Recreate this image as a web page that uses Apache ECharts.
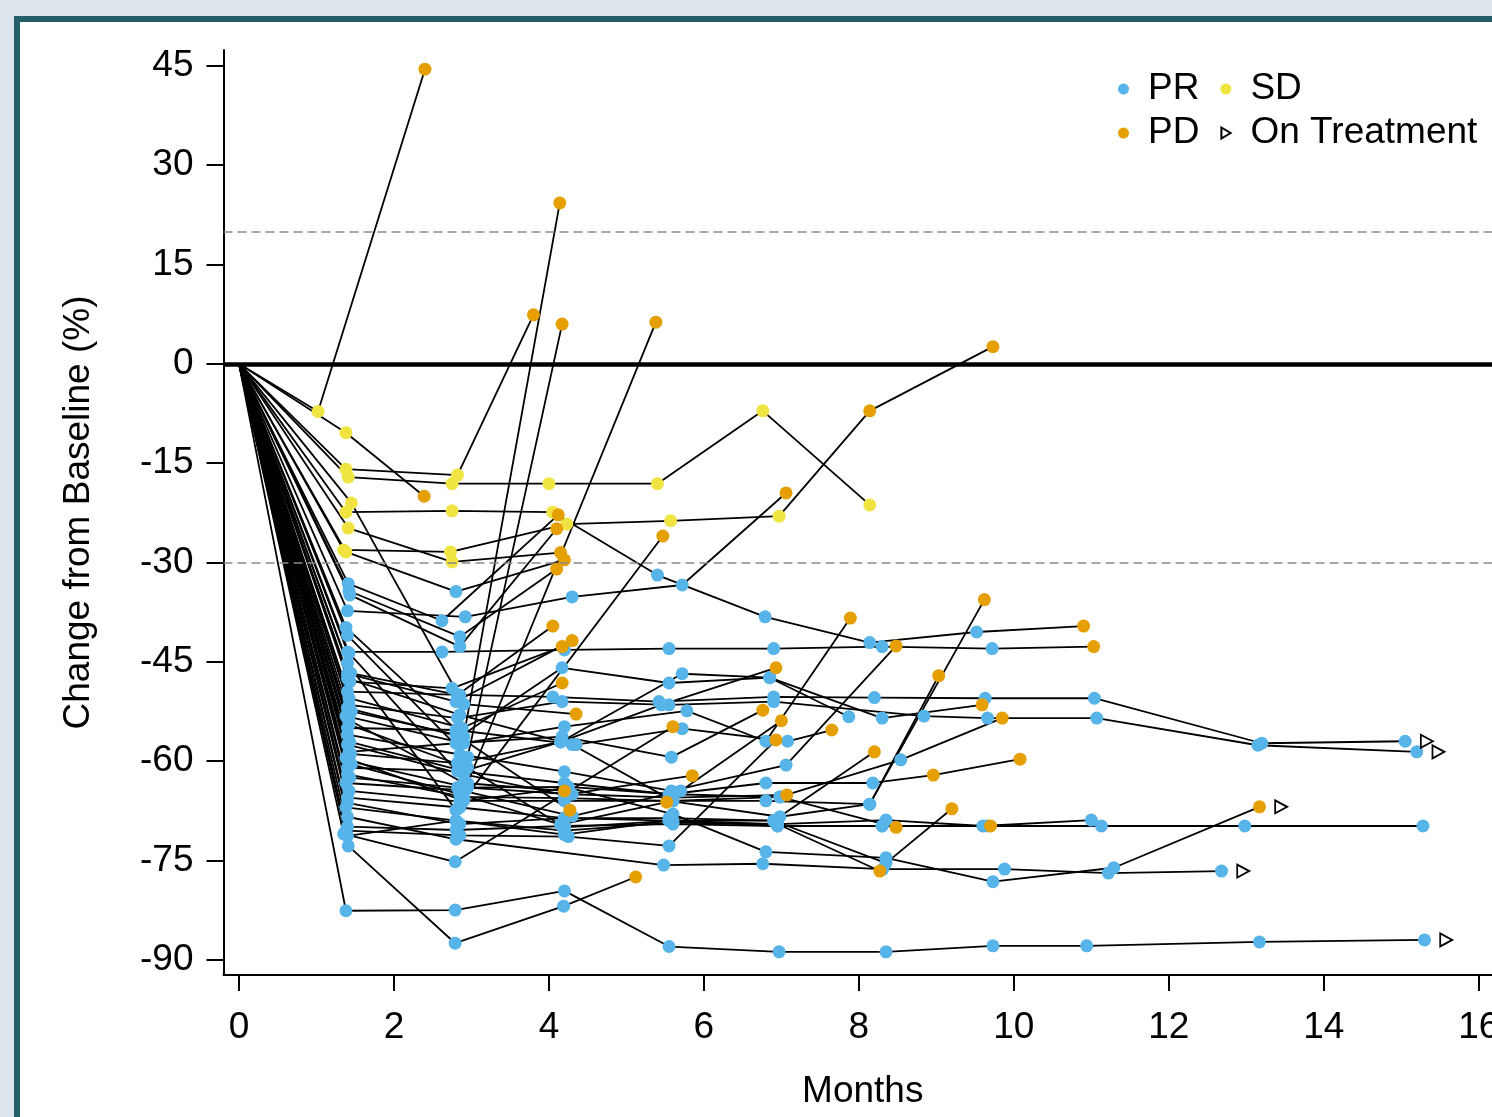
<!DOCTYPE html>
<html>
<head>
<meta charset="utf-8">
<script src="https://cdn.jsdelivr.net/npm/echarts@6/dist/echarts.min.js"></script>
<style>
  html, body { margin: 0; padding: 0; width: 1492px; height: 1117px; overflow: hidden; background: #dde6ed; }
  #panel { position: absolute; left: 14px; top: 16px; width: 1530px; height: 1160px; background: #fff; border: 6px solid #245e69; }
  #chart { position: absolute; left: 0; top: 0; width: 1530px; height: 1117px; }
</style>
</head>
<body>
<div id="panel"></div>
<div id="chart"></div>
<script>
// each point: [months, % change from baseline, response]; every trace starts at (0, 0)
const sdStart = [
  [[1.02, -7.2, 'SD'], [2.4, 44.5, 'PD']],
  [[1.38, -10.4, 'SD'], [2.39, -20, 'PD']],
  [[1.38, -15.9, 'SD'], [2.82, -16.8, 'SD'], [3.8, 7.4, 'PD']],
  [[1.41, -17.1, 'SD'], [2.75, -18.1, 'SD'], [4.0, -18.1, 'SD'], [5.4, -18.1, 'SD'], [6.76, -7.1, 'SD'], [8.14, -21.3, 'SD']],
  [[1.38, -22.4, 'SD'], [2.75, -22.2, 'SD'], [4.05, -22.4, 'SD'], [5.4, -31.9, 'PR'], [6.79, -38.2, 'PR'], [8.14, -42.1, 'PR'], [9.52, -40.5, 'PR'], [10.9, -39.6, 'PD']],
  [[1.35, -28.1, 'SD'], [2.73, -28.4, 'SD'], [4.23, -24.2, 'SD'], [5.57, -23.7, 'SD'], [6.97, -23, 'SD'], [8.14, -7.1, 'PD'], [9.73, 2.6, 'PD']],
  [[1.41, -24.8, 'SD'], [2.75, -29.9, 'SD'], [4.15, -28.5, 'PD']],
  [[1.45, -21, 'SD'], [2.9, -51.4, 'PR'], [4.35, -52.9, 'PD']],
  [[1.38, -28.4, 'SD'], [2.8, -34.4, 'PR'], [4.2, -29.6, 'PD']]
];

const prEarly = [
  [[1.41, -33.2, 'PR'], [2.62, -38.8, 'PR'], [4.12, -22.8, 'PD']],
  [[1.42, -34.3, 'PR'], [2.85, -41.2, 'PR'], [4.1, -31, 'PD']],
  [[1.43, -34.9, 'PR'], [2.85, -42.7, 'PR'], [4.1, -24.9, 'PD']],
  [[1.38, -39.8, 'PR'], [2.9, -56.3, 'PR'], [4.14, 24.3, 'PD']],
  [[1.4, -41, 'PR'], [2.95, -59.4, 'PR'], [4.17, 6, 'PD']],
  [[1.42, -43.7, 'PR'], [2.95, -63.3, 'PR'], [5.38, 6.3, 'PD']],
  [[1.4, -45.2, 'PR'], [2.8, -67.4, 'PR'], [5.47, -26, 'PD']],
  [[1.44, -46.7, 'PR'], [2.82, -50, 'PR'], [4.05, -39.6, 'PD']],
  [[1.4, -46.8, 'PR'], [2.8, -51, 'PR'], [4.3, -41.8, 'PD']],
  [[1.43, -48, 'PR'], [2.75, -49, 'PR'], [4.17, -42.7, 'PD']],
  [[1.42, -50.5, 'PR'], [2.88, -55, 'PR'], [4.17, -48.2, 'PD']],
  [[1.45, -52.5, 'PR'], [2.8, -56, 'PR'], [4.27, -67.4, 'PD']],
  [[1.42, -53.8, 'PR'], [2.9, -63.3, 'PR'], [4.2, -64.5, 'PD']],
  [[1.35, -71, 'PR'], [2.79, -75.2, 'PR'], [5.6, -54.8, 'PD']],
  [[1.41, -72.8, 'PR'], [2.79, -87.5, 'PR'], [4.19, -81.9, 'PR'], [5.12, -77.5, 'PD']],
  [[1.4, -57.5, 'PR'], [2.9, -62, 'PR'], [4.2, -65.1, 'PR'], [5.85, -62.2, 'PD']],
  [[1.45, -60.5, 'PR'], [2.85, -65, 'PR'], [4.15, -69.6, 'PR'], [5.52, -66.2, 'PD']]
];

const prLate = [
  [[1.4, -37.3, 'PR'], [2.92, -38.2, 'PR'], [4.3, -35.2, 'PR'], [5.72, -33.4, 'PR'], [7.06, -19.5, 'PD']],
  [[1.4, -43.5, 'PR'], [2.62, -43.5, 'PR'], [4.2, -43.2, 'PR'], [5.55, -43, 'PR'], [6.9, -43, 'PR'], [8.3, -42.7, 'PR'], [9.72, -43, 'PR'], [11.03, -42.7, 'PD']],
  [[1.38, -53.2, 'PR'], [2.9, -57.3, 'PR'], [4.2, -54.8, 'PR'], [5.78, -52.4, 'PR'], [6.8, -57, 'PR'], [7.89, -38.4, 'PD']],
  [[1.4, -55, 'PR'], [2.8, -55.3, 'PR'], [4.35, -57.5, 'PR'], [5.72, -55.1, 'PR'], [7.08, -57, 'PR'], [7.65, -55.3, 'PD']],
  [[1.42, -58.6, 'PR'], [2.8, -57.3, 'PR'], [4.17, -56.3, 'PR'], [5.58, -59.4, 'PR'], [6.76, -52.3, 'PD']],
  [[1.44, -58.9, 'PR'], [2.82, -60.3, 'PR'], [4.15, -57.1, 'PR'], [5.72, -46.8, 'PR'], [6.85, -47.4, 'PR'], [8.3, -53.5, 'PR'], [9.59, -51.5, 'PD']],
  [[1.43, -57.1, 'PR'], [2.9, -61.5, 'PR'], [4.15, -57.1, 'PR'], [5.45, -51.5, 'PR'], [6.93, -45.9, 'PD']],
  [[1.4, -61, 'PR'], [2.82, -61.5, 'PR'], [4.2, -63.3, 'PR'], [5.55, -65, 'PR'], [6.8, -63.3, 'PR'], [8.18, -63.3, 'PR'], [8.96, -62.1, 'PD'], [10.08, -59.7, 'PD']],
  [[1.38, -63.3, 'PR'], [2.87, -64.4, 'PR'], [4.3, -68.3, 'PR'], [5.7, -64.5, 'PR'], [7.0, -53.9, 'PD']],
  [[1.4, -69.9, 'PR'], [2.8, -70.4, 'PR'], [4.2, -69.8, 'PR'], [5.6, -69.5, 'PR'], [6.95, -69.8, 'PR'], [8.3, -69.8, 'PR'], [9.66, -69.8, 'PR'], [11.13, -69.8, 'PR'], [12.98, -69.8, 'PR'], [15.28, -69.8, 'PR']],
  [[1.38, -67, 'PR'], [2.8, -69, 'PR'], [4.2, -70.5, 'PR'], [5.6, -69.3, 'PR'], [6.95, -69.5, 'PR'], [8.35, -68.9, 'PR'], [9.6, -69.8, 'PR'], [11.0, -68.9, 'PR']],
  [[1.4, -71.3, 'PR'], [2.8, -69, 'PR'], [4.2, -71.1, 'PR'], [5.55, -69, 'PR'], [6.9, -69, 'PR'], [8.35, -75.4, 'PR'], [9.2, -67.2, 'PD']],
  [[1.4, -66.3, 'PR'], [2.85, -69.5, 'PR'], [4.2, -68.6, 'PR'], [5.55, -69, 'PR'], [6.95, -69.5, 'PR'], [8.27, -76.6, 'PD']],
  [[1.38, -70.5, 'PR'], [2.85, -71.2, 'PR'], [4.25, -71.4, 'PR'], [5.55, -72.8, 'PR'], [6.93, -56.8, 'PD']],
  [[1.4, -62, 'PR'], [2.9, -65.4, 'PR'], [4.2, -65.6, 'PR'], [5.55, -66, 'PR'], [6.98, -68.4, 'PR'], [8.14, -66.5, 'PR'], [9.62, -35.6, 'PD']],
  [[1.42, -60, 'PR'], [2.95, -64, 'PR'], [4.3, -65, 'PR'], [5.6, -65.5, 'PR'], [7.07, -65.1, 'PD']],
  [[1.4, -56, 'PR'], [2.85, -59, 'PR'], [4.2, -61.6, 'PR'], [5.58, -64.5, 'PR'], [7.06, -60.6, 'PR'], [8.48, -42.6, 'PD']],
  [[1.4, -65.5, 'PR'], [2.85, -67, 'PR'], [4.2, -68.6, 'PR'], [5.55, -68.6, 'PR'], [6.9, -69, 'PR'], [8.2, -58.6, 'PD']],
  [[1.43, -62.5, 'PR'], [2.82, -64, 'PR'], [4.25, -63.9, 'PR'], [5.6, -65, 'PR'], [6.98, -65.4, 'PR'], [8.54, -59.8, 'PR'], [9.85, -53.5, 'PD']],
  [[1.38, -59.5, 'PR'], [2.9, -66, 'PR'], [4.2, -66, 'PR'], [5.6, -66, 'PR'], [6.8, -66, 'PR'], [8.14, -66.5, 'PR'], [9.03, -47.1, 'PD']],
  [[1.4, -47.5, 'PR'], [2.85, -53, 'PR'], [4.3, -57.5, 'PR'], [5.6, -66, 'PR'], [6.98, -65.4, 'PR'], [8.48, -70, 'PD']],
  [[1.42, -54.5, 'PR'], [2.95, -61, 'PR'], [4.2, -70, 'PR'], [5.6, -69, 'PR'], [6.95, -69.8, 'PR'], [8.3, -69.8, 'PR'], [9.7, -69.8, 'PD']],
  [[1.4, -52, 'PR'], [2.85, -56.3, 'PR'], [4.17, -45.9, 'PR'], [5.55, -48.2, 'PR'], [6.85, -47.4, 'PR'], [7.87, -53.3, 'PR']]
];

// patients still on treatment (drawn with an open arrowhead after the last scan)
const ongoing = [
  [[1.4, -49.5, 'PR'], [2.85, -50, 'PR'], [4.05, -50.3, 'PR'], [5.42, -51, 'PR'], [6.9, -50.3, 'PR'], [8.2, -50.4, 'PR'], [9.63, -50.5, 'PR'], [11.04, -50.5, 'PR'], [13.2, -57.3, 'PR'], [15.05, -57, 'PR']],
  [[1.42, -51.5, 'PR'], [2.82, -53.5, 'PR'], [4.17, -51, 'PR'], [5.55, -51.5, 'PR'], [6.9, -51, 'PR'], [8.84, -53.2, 'PR'], [9.66, -53.5, 'PR'], [11.07, -53.5, 'PR'], [13.15, -57.6, 'PR'], [15.2, -58.6, 'PR']],
  [[1.42, -64.5, 'PR'], [2.85, -66.1, 'PR'], [4.25, -64, 'PR'], [5.6, -68, 'PR'], [6.8, -73.7, 'PR'], [8.35, -74.6, 'PR'], [9.73, -78.2, 'PR'], [11.29, -76.1, 'PR'], [13.17, -66.9, 'PD']],
  [[1.4, -68.4, 'PR'], [2.8, -71.8, 'PR'], [5.48, -75.7, 'PR'], [6.76, -75.5, 'PR'], [8.31, -76.3, 'PR'], [9.88, -76.3, 'PR'], [11.22, -76.9, 'PR'], [12.68, -76.6, 'PR']],
  [[1.38, -82.6, 'PR'], [2.79, -82.5, 'PR'], [4.2, -79.6, 'PR'], [5.55, -88, 'PR'], [6.97, -88.8, 'PR'], [8.35, -88.8, 'PR'], [9.73, -87.9, 'PR'], [10.94, -87.9, 'PR'], [13.17, -87.3, 'PR'], [15.3, -87, 'PR']]
];

const xTicks = [0, 2, 4, 6, 8, 10, 12, 14, 16];
const yTicks = [-90, -75, -60, -45, -30, -15, 0, 15, 30, 45];
const responses = ['PR', 'SD', 'PD'];
const respColors = { PR: '#56b4e9', SD: '#f0e442', PD: '#e69f00' };

const font = '"Liberation Sans", Arial, sans-serif';
const triPath = 'path://M0,0L10,6L0,12Z';

const allTraces = sdStart.concat(prEarly, prLate, ongoing);

const lineSeries = allTraces.map(function (t) {
  return {
    type: 'line',
    data: [[0, 0]].concat(t.map(function (p) { return [p[0], p[1]]; })),
    symbol: 'none',
    lineStyle: { color: '#000', width: 1.8 },
    silent: true,
    z: 2
  };
});

const pointSeries = responses.map(function (r) {
  var pts = [];
  allTraces.forEach(function (t) {
    t.forEach(function (p) { if (p[2] === r) pts.push([p[0], p[1]]); });
  });
  return {
    name: r,
    type: 'scatter',
    symbol: 'circle',
    symbolSize: 13,
    itemStyle: { color: respColors[r], opacity: 1 },
    data: pts,
    z: 4
  };
});

const arrowSeries = {
  name: 'On Treatment',
  type: 'scatter',
  symbol: triPath,
  symbolSize: [12, 13],
  itemStyle: { color: '#fff', borderColor: '#000', borderWidth: 1.8, opacity: 1 },
  data: ongoing.map(function (t) {
    var last = t[t.length - 1];
    return [last[0] + 0.28, last[1]];
  }),
  z: 4
};

const refSeries = {
  type: 'line',
  data: [],
  silent: true,
  z: 1,
  markLine: {
    silent: true,
    symbol: ['none', 'none'],
    label: { show: false },
    animation: false,
    data: [
      { yAxis: 0, lineStyle: { color: '#000', width: 4.5, type: 'solid' } },
      { yAxis: 20, lineStyle: { color: '#8a8a8a', width: 1.6, type: [9, 5] } },
      { yAxis: -30, lineStyle: { color: '#8a8a8a', width: 1.6, type: [9, 5] } }
    ]
  }
};

var myChart = echarts.init(document.getElementById('chart'));
myChart.setOption({
  animation: false,
  backgroundColor: 'transparent',
  grid: { left: 223.5, right: 28, top: 50, bottom: 142, containLabel: false },
  xAxis: {
    type: 'value',
    min: -0.2,
    max: 16.3,
    axisLine: { show: true, onZero: false, lineStyle: { color: '#000', width: 2 } },
    axisTick: { show: true, length: 16, customValues: xTicks, lineStyle: { color: '#000', width: 2 } },
    axisLabel: { customValues: xTicks, color: '#000', fontSize: 37, fontFamily: font, margin: 34 },
    splitLine: { show: false },
    name: 'Months',
    nameLocation: 'middle',
    nameGap: 98,
    nameTextStyle: { color: '#000', fontSize: 37, fontFamily: font }
  },
  yAxis: {
    type: 'value',
    min: -92.3,
    max: 47.4,
    axisLine: { show: true, onZero: false, lineStyle: { color: '#000', width: 2 } },
    axisTick: { show: true, length: 17, customValues: yTicks, lineStyle: { color: '#000', width: 2 } },
    axisLabel: { customValues: yTicks, color: '#000', fontSize: 37, fontFamily: font, margin: 30 },
    splitLine: { show: false },
    name: 'Change from Baseline (%)',
    nameLocation: 'middle',
    nameGap: 126,
    nameTextStyle: { color: '#000', fontSize: 37, fontFamily: font }
  },
  legend: [
    {
      data: ['PR', 'SD'],
      left: 1118, top: 69, padding: 0,
      itemWidth: 11, itemHeight: 11, itemGap: 21,
      selectedMode: false,
      textStyle: { color: '#000', fontSize: 37, fontFamily: font, lineHeight: 40, padding: [0, 0, 0, 14] }
    },
    {
      data: ['PD', { name: 'On Treatment', icon: triPath }],
      left: 1118, top: 113, padding: 0,
      itemWidth: 11, itemHeight: 11, itemGap: 21,
      selectedMode: false,
      textStyle: { color: '#000', fontSize: 37, fontFamily: font, lineHeight: 40, padding: [0, 0, 0, 14] }
    }
  ],
  series: [refSeries].concat(lineSeries, pointSeries, [arrowSeries])
});
</script>
</body>
</html>
